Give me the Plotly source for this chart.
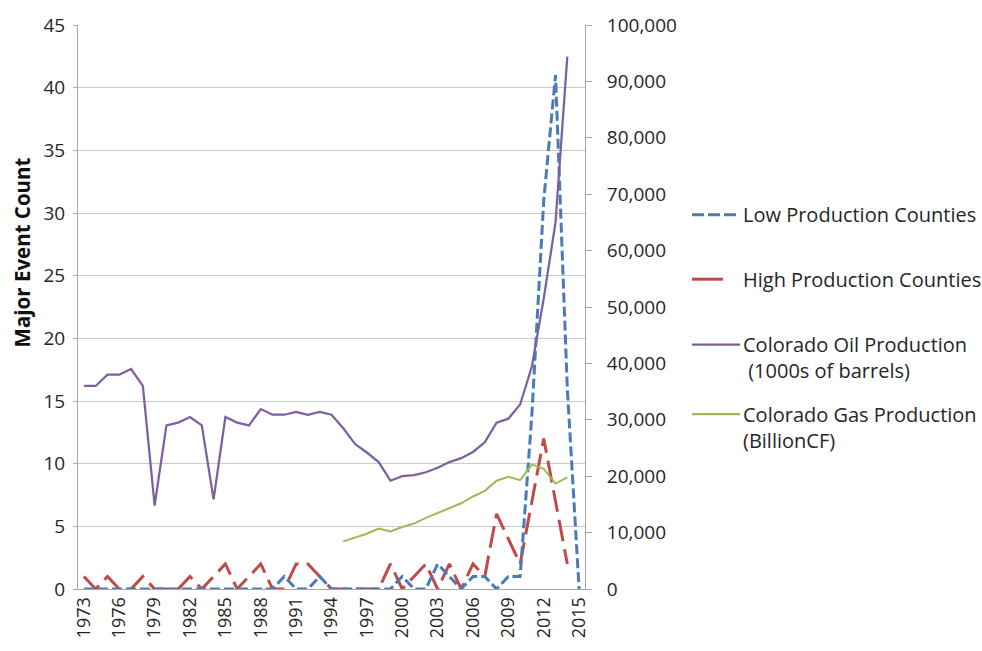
import plotly.graph_objects as go

# Years on the category axis
years = [1973, 1974, 1975, 1976, 1977, 1978, 1979, 1980, 1981, 1982,
         1983, 1984, 1985, 1986, 1987, 1988, 1989, 1990, 1991, 1992,
         1993, 1994, 1995, 1996, 1997, 1998, 1999, 2000, 2001, 2002,
         2003, 2004, 2005, 2006, 2007, 2008, 2009, 2010, 2011, 2012,
         2013, 2014, 2015]

# Major event counts (left axis)
low_production = [0, 0, 0, 0, 0, 0, 0, 0, 0, 0,
                  0, 0, 0, 0, 0, 0, 0, 1, 0, 0,
                  1, 0, 0, 0, 0, 0, 0, 1, 0, 0,
                  2, 1, 0, 1, 1, 0, 1, 1, 14, 31,
                  41, 16, 0]
high_production = [1, 0, 1, 0, 0, 1, 0, 0, 0, 1,
                   0, 1, 2, 0, 1, 2, 0, 0, 2, 2,
                   1, 0, 0, 0, 0, 0, 2, 0, 1, 2,
                   0, 2, 0, 2, 1, 6, 4, 2, 7, 12,
                   7, 2, None]

# Production (right axis)
oil_production = [36000, 36000, 38000, 38000, 39000, 36000, 14800, 29000, 29500, 30500,
                  29000, 15900, 30500, 29500, 29000, 31900, 30900, 30900, 31400, 30900,
                  31400, 30900, 28500, 25700, 24200, 22500, 19200, 20000, 20200, 20700,
                  21500, 22500, 23200, 24300, 26000, 29500, 30200, 32700, 39500, 51500,
                  65000, 94400, None]
gas_production = [None, None, None, None, None, None, None, None, None, None,
                  None, None, None, None, None, None, None, None, None, None,
                  None, None, 8450, 9100, 9800, 10700, 10200, 11000, 11600, 12600,
                  13500, 14300, 15200, 16400, 17400, 19200, 19900, 19300, 22100, 21300,
                  18700, 19800, None]

tick_years = years[::3]

BLUE = "#4A7BB7"
RED = "#BE4B48"
PURPLE = "#7D60A0"
GREEN = "#9BBB59"
TEXT = "#262626"
FONT = "Open Sans"

# Plot area in pixels
L, R, T, B = 78, 585, 21, 589
W, H = 982, 651

fig = go.Figure()

fig.add_trace(go.Scatter(x=years, y=gas_production, mode="lines", yaxis="y2",
                         line=dict(color=GREEN, width=2), showlegend=False,
                         name="Colorado Gas Production (BillionCF)"))
fig.add_trace(go.Scatter(x=years, y=oil_production, mode="lines", yaxis="y2",
                         line=dict(color=PURPLE, width=2.25), showlegend=False,
                         name="Colorado Oil Production (1000s of barrels)"))
fig.add_trace(go.Scatter(x=years, y=high_production, mode="lines",
                         line=dict(color=RED, width=3, dash="22px,8px"), showlegend=False,
                         name="High Production Counties"))
fig.add_trace(go.Scatter(x=years, y=low_production, mode="lines",
                         line=dict(color=BLUE, width=3, dash="10px,4px"), showlegend=False,
                         name="Low Production Counties"))


def px_x(x):
    return (x - L) / (R - L)


def px_y(y):
    return (B - y) / (B - T)


# Legend drawn beside the plot: (symbol y, colour, dash, sample end x, label)
LINE_H = 26
legend_items = [
    (212, BLUE, "12px,4px", 740, ["Low Production Counties"]),
    (277, RED, "solid", 723, ["High Production Counties"]),
    (343, PURPLE, "solid", 740, ["Colorado Oil Production", "\u00a0(1000s of barrels)"]),
    (413, GREEN, "solid", 740, ["Colorado Gas Production", "(BillionCF)"]),
]
shapes = []
annotations = []
for k, (yy, col, dash, x_end, lines) in enumerate(legend_items, start=1):
    shapes.append(dict(type="line", xref="paper", yref="paper",
                       x0=px_x(692), x1=px_x(x_end), y0=px_y(yy), y1=px_y(yy),
                       line=dict(color=col, width=3 if k <= 2 else 2.25, dash=dash)))
    centre = yy + (len(lines) - 1) * LINE_H / 2
    annotations.append(dict(xref="paper", yref="paper", x=px_x(741), y=px_y(centre),
                            xanchor="left", yanchor="middle", align="left",
                            showarrow=False, text="<br>".join(lines),
                            font=dict(family=FONT, size=20, color=TEXT)))

annotations.append(dict(xref="paper", yref="paper", x=px_x(22), y=px_y(250),
                        xanchor="center", yanchor="middle", showarrow=False,
                        textangle=-90, text="<b>Major Event Count</b>",
                        font=dict(family=FONT, size=20.5, color="#111111")))

fig.update_layout(
    width=W, height=H,
    margin=dict(l=L, r=W - R, t=T, b=H - B),
    paper_bgcolor="white", plot_bgcolor="white",
    font=dict(family=FONT, size=18, color=TEXT),
    showlegend=False,
    shapes=shapes,
    annotations=annotations,
    xaxis=dict(range=[1972.5, 2015.5], tickmode="array", tickvals=tick_years,
               ticktext=[str(y) for y in tick_years], tickangle=-90,
               showgrid=False, zeroline=False, showline=True,
               linecolor="#A6A6A6", linewidth=1, ticks="",
               tickfont=dict(size=18, color=TEXT)),
    yaxis=dict(range=[0, 45], dtick=5, showgrid=True, gridcolor="#C9C9C9",
               gridwidth=1, zeroline=False, showline=True, linecolor="#A6A6A6",
               ticks="outside", ticklen=4, tickcolor="#A6A6A6",
               ticklabelstandoff=4, tickfont=dict(size=19, color=TEXT)),
    yaxis2=dict(range=[0, 100000], dtick=10000, overlaying="y", side="right",
                tickformat=",d", showgrid=False, zeroline=False, showline=True,
                linecolor="#A6A6A6", ticks="outside", ticklen=6, tickcolor="#A6A6A6",
                ticklabelstandoff=11, tickfont=dict(size=19, color=TEXT)),
)

fig.write_html("out.html")
